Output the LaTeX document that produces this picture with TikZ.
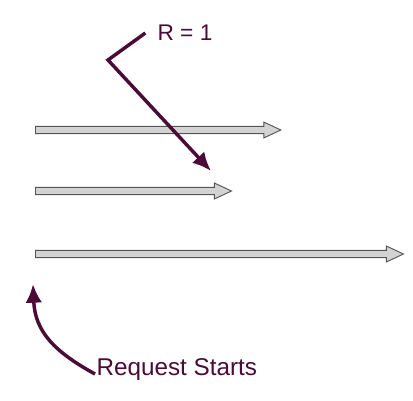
\documentclass[tikz,border=0pt]{standalone}
\usepackage{fontspec}
\setmainfont{Liberation Sans}
\usetikzlibrary{arrows.meta,shapes.arrows}
\definecolor{plum}{HTML}{4A0B36}
\definecolor{trackfill}{HTML}{D3D3D3}
\definecolor{trackline}{HTML}{555555}

\begin{document}
\begin{tikzpicture}[x=0.75pt,y=-0.75pt,
    track/.style={single arrow,draw=trackline,fill=trackfill,line width=0.7pt,inner sep=2.4pt,
      single arrow head extend=3.2pt,single arrow tip angle=50,anchor=tail},
    note/.style={text=plum,font=\fontsize{17}{20}\selectfont,inner sep=1pt},
    pointer/.style={-{Latex[length=14pt,width=12.5pt]},line width=2.6pt,draw=plum}
  ]
    \useasboundingbox (0,0) rectangle (413,400);

    % request timelines
    \node[track,minimum height=184pt] (t1) at (35,130) {};
    \node[track,minimum height=147pt] (t2) at (35,191) {};
    \node[track,minimum height=276pt] (t3) at (35,254) {};

    \node[note,anchor=west] (rlabel) at (156,33) {R = 1};
    \node[note,font=\fontsize{18.2}{21}\selectfont,anchor=west] (startlabel) at (95,370) {Request Starts};

    \coordinate (rbend) at (108,60);
    \coordinate (rtip) at (211,171);
    \coordinate (starttip) at (33,284);

    \draw[pointer] ([xshift=-8pt]rlabel.west) -- (rbend) -- (rtip);
    \draw[pointer] ([yshift=-3pt]startlabel.west) .. controls (55,352) and (35,332) .. (starttip);
  \end{tikzpicture}
\end{document}
